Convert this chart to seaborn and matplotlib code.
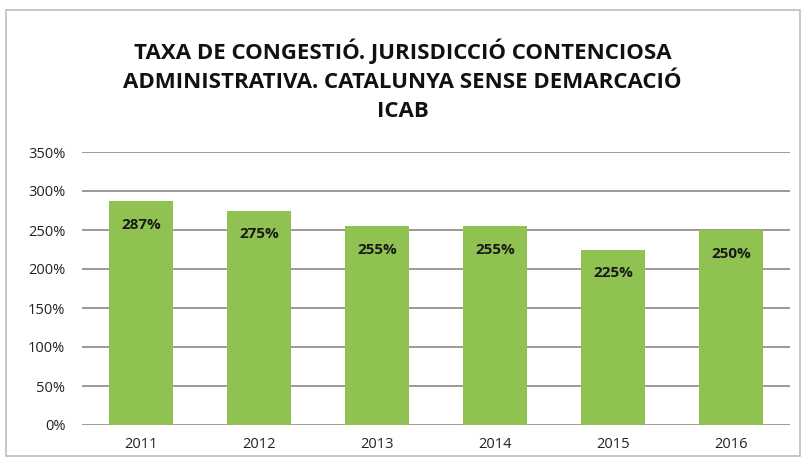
import matplotlib
matplotlib.use('agg')
import matplotlib.pyplot as plt
import seaborn as sns
import pandas as pd
from matplotlib.patches import Rectangle

# chart data
years = ["2011", "2012", "2013", "2014", "2015", "2016"]
rates = [287, 275, 255, 255, 225, 250]
labels = ["287%", "275%", "255%", "255%", "225%", "250%"]
yticks = [0, 50, 100, 150, 200, 250, 300, 350]
title = ("TAXA DE CONGESTIÓ. JURISDICCIÓ CONTENCIOSA\n"
         "ADMINISTRATIVA. CATALUNYA SENSE DEMARCACIÓ\nICAB")

sns.set_style("white")
plt.rcParams['font.family'] = ['Open Sans', 'DejaVu Sans']

df = pd.DataFrame({"year": years, "rate": rates})

fig = plt.figure(figsize=(8.05, 4.67), dpi=100)
ax = fig.add_axes([82 / 805, 1 - 425 / 467, 708 / 805, 273 / 467])

# outer chart border
fig.patches.append(Rectangle((6 / 805, 1 - 456 / 467), 794 / 805, 446 / 467,
                             transform=fig.transFigure, fill=False,
                             edgecolor='#bdbdbd', linewidth=1.2))

sns.barplot(data=df, x="year", y="rate", color="#8fc250", width=0.55,
            saturation=1, linewidth=0, ax=ax, zorder=3)

for i, (v, lab) in enumerate(zip(rates, labels)):
    ax.annotate(lab, (i, v), xytext=(0, -17), textcoords='offset points',
                ha='center', va='center', fontsize=11, fontweight='bold',
                color='#1a1a1a', zorder=4)

ax.set_ylim(0, 350)
ax.set_yticks(yticks)
ax.set_yticklabels([f"{t}%" for t in yticks], fontsize=10.5, color='#222222')
ax.tick_params(axis='x', labelsize=10.5, colors='#222222', length=0, pad=9)
ax.tick_params(axis='y', length=0, pad=12)
ax.yaxis.grid(True, color='#8a7a74', linewidth=1.1, zorder=0)
ax.set_axisbelow(True)
for s in ax.spines.values():
    s.set_visible(False)
ax.set_xlabel("")
ax.set_ylabel("")

fig.text(0.5, 1 - 80 / 467, title, ha='center', va='center', fontsize=16,
         fontweight='bold', linespacing=1.5, color='#111111')

fig.savefig("out.png", dpi=100)
